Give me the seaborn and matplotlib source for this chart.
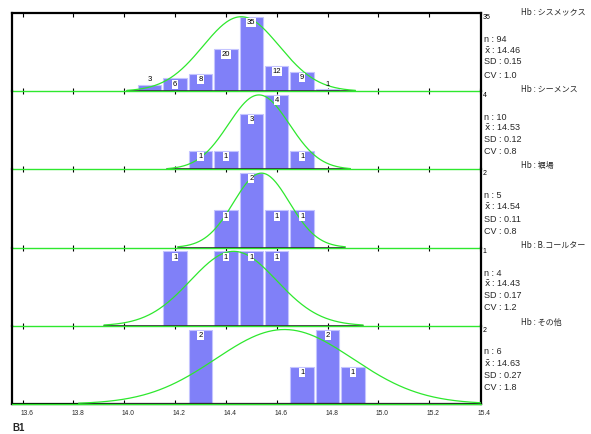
import numpy as np
import pandas as pd
import matplotlib
matplotlib.use("Agg")
import matplotlib.pyplot as plt
from matplotlib.transforms import ScaledTranslation
import seaborn as sns

# Hb distribution by analyser maker
makers = ["シスメックス", "シーメンス", "堀場", "B.コールター", "その他"]

centers_1 = [14.1, 14.2, 14.3, 14.4, 14.5, 14.6, 14.7, 14.8]
counts_1 = [3, 6, 8, 20, 35, 12, 9, 1]
centers_2 = [14.3, 14.4, 14.5, 14.6, 14.7]
counts_2 = [1, 1, 3, 4, 1]
centers_3 = [14.4, 14.5, 14.6, 14.7]
counts_3 = [1, 2, 1, 1]
centers_4 = [14.2, 14.4, 14.5, 14.6]
counts_4 = [1, 1, 1, 1]
centers_5 = [14.3, 14.7, 14.8, 14.9]
counts_5 = [2, 1, 2, 1]

n_values = [94, 10, 5, 4, 6]
means = [14.46, 14.53, 14.54, 14.43, 14.63]
sds = [0.15, 0.12, 0.11, 0.17, 0.27]
cvs = [1.0, 0.8, 0.8, 1.2, 1.8]

x_ticks = [13.6, 13.8, 14.0, 14.2, 14.4, 14.6, 14.8, 15.0, 15.2, 15.4]
bin_width = 0.1

all_centers = [centers_1, centers_2, centers_3, centers_4, centers_5]
all_counts = [counts_1, counts_2, counts_3, counts_4, counts_5]

sns.set_style("white")
plt.rcParams["font.family"] = ["Liberation Sans", "DejaVu Sans"]
plt.rcParams["mathtext.fontset"] = "dejavusans"

W, H = 591, 434
fig = plt.figure(figsize=(W / 100, H / 100), dpi=100)
fig.patch.set_facecolor("white")

left, right = 12 / W, 481 / W
top_px, bottom_px = 13, 404
n_pan = len(makers)
pan_h = (bottom_px - top_px) / n_pan

BAR = "#8080f8"
BAR_EDGE = "#c4c4ff"
GREEN = "#2ee82e"

axes = []
for i in range(n_pan):
    y0 = bottom_px - (n_pan - 1 - i) * pan_h
    ax = fig.add_axes([left, 1 - y0 / H, right - left, pan_h / H])
    ax.set_facecolor("none")
    axes.append(ax)

for i, ax in enumerate(axes):
    centers = all_centers[i]
    counts = all_counts[i]
    ymax = max(counts)
    lo = round(min(centers) - bin_width / 2, 2)
    hi = round(max(centers) + bin_width / 2, 2)
    edges = [float(e) for e in np.round(np.arange(lo, hi + 1e-6, bin_width), 2)]
    df = pd.DataFrame({"hb": centers, "count": counts})

    sns.histplot(data=df, x="hb", weights="count", bins=edges, shrink=0.92,
                 color=BAR, edgecolor=BAR_EDGE, linewidth=0.8, alpha=1.0,
                 ax=ax, zorder=2)

    m, s = means[i], sds[i]
    # baseline: green across the panel, dark grey within mean +/- 3 SD
    ax.axhline(0, color=GREEN, lw=1.0, zorder=3, clip_on=False)
    ax.plot([m - 3 * s, m + 3 * s], [0, 0], color="#333333", lw=1.2,
            zorder=3, clip_on=True)

    # fitted normal curve scaled to the panel maximum
    xs = np.linspace(m - 3 * s, m + 3 * s, 300)
    ys = ymax * np.exp(-0.5 * ((xs - m) / s) ** 2)
    sns.lineplot(x=xs, y=ys, color=GREEN, lw=0.9, ax=ax, zorder=4)

    # count labels on the bars
    for c, k in zip(centers, counts):
        if k / ymax < 0.12:
            ax.text(c, k + ymax * 0.02, str(k), ha="center", va="bottom",
                    fontsize=5.5, color="black", zorder=5)
        else:
            ax.text(c, k - ymax * 0.03, str(k), ha="center", va="top",
                    fontsize=5.5, color="black", zorder=5,
                    bbox=dict(boxstyle="square,pad=0.12", fc="white", ec="none"))

    ax.set_xlim(13.558, 15.404)
    ax.set_ylim(0, ymax * 1.05)
    ax.set_xlabel("")
    ax.set_ylabel("")
    ax.set_yticks([])
    ax.set_xticks(x_ticks)

    for sp in ["left", "right"]:
        ax.spines[sp].set_visible(True)
        ax.spines[sp].set_color("black")
        ax.spines[sp].set_linewidth(1.6)
    ax.spines["top"].set_visible(i == 0)
    ax.spines["bottom"].set_visible(i == n_pan - 1)
    for sp in ["top", "bottom"]:
        ax.spines[sp].set_color("black")
        ax.spines[sp].set_linewidth(1.6)

    if i == n_pan - 1:
        ax.tick_params(axis="x", bottom=True, top=False, direction="in",
                       length=3, width=0.8, color="black", labelsize=4.8, pad=4)
        ax.set_xticklabels([f"{t:.1f}" for t in x_ticks])
        shift = ScaledTranslation(4 / 100, 0, fig.dpi_scale_trans)
        for lab in ax.get_xticklabels():
            lab.set_transform(lab.get_transform() + shift)
    else:
        ax.tick_params(axis="x", bottom=True, top=False, direction="inout",
                       length=5, width=0.8, color="black",
                       labelbottom=False, labeltop=False)
    if i == 0:
        sec = ax.secondary_xaxis("top")
        sec.set_xticks(x_ticks)
        sec.tick_params(direction="in", length=3, width=0.8, color="black",
                        labeltop=False)
        sec.spines["top"].set_visible(False)
    # panel maximum at the top right
    ax.text(1.004, 0.99, str(ymax), transform=ax.transAxes, ha="left",
            va="top", fontsize=5, color="black")

# maker names and summary statistics on the right
stat_rows = [
    (39, 51, 62, 75, 12),
    (117, 128, 140, 152, 89),
    (195, 207, 219, 232, 165),
    (273, 284, 296, 308, 245),
    (352, 364, 376, 388, 322),
]
for i, (yn, yx, ysd, ycv, yhb) in enumerate(stat_rows):
    fx = 484 / W
    fig.text(fx, 1 - yn / H, f"n : {n_values[i]}", fontsize=6.5, va="center")
    fig.text(fx, 1 - yx / H, r"$\bar{\mathrm{x}}$" + f" : {means[i]:.2f}",
             fontsize=6.5, va="center")
    fig.text(fx, 1 - ysd / H, f"SD : {sds[i]:.2f}", fontsize=6.5, va="center")
    fig.text(fx, 1 - ycv / H, f"CV : {cvs[i]:.1f}", fontsize=6.5, va="center")
    fig.text(521 / W, 1 - yhb / H, f"Hb : {makers[i]}", fontsize=5.8,
             va="center", family=["Noto Sans CJK JP", "DejaVu Sans"])

fig.text(12 / W, 1 - 428 / H, "B1", fontsize=7, va="center",
         fontweight="bold")

fig.savefig("out.png", dpi=100, facecolor="white")
